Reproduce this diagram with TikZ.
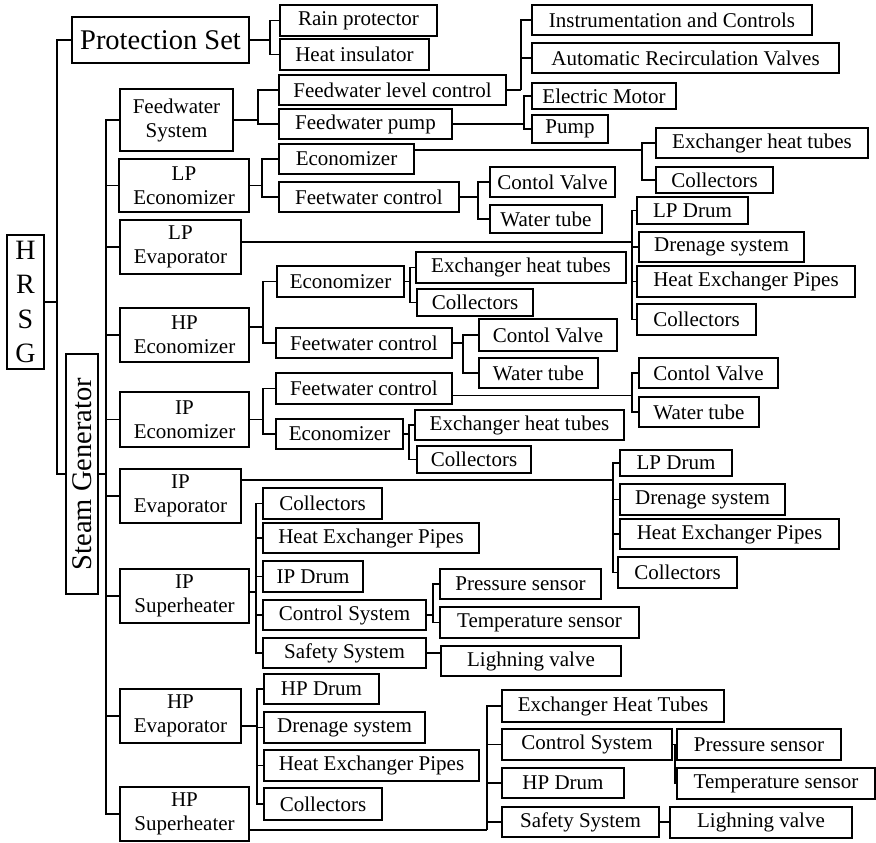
\documentclass[tikz,border=0pt]{standalone}
\usepackage{fontspec}
\usepackage{graphicx}
\setmainfont{Liberation Serif}
\usetikzlibrary{calc}
\tikzset{
  bx/.style={draw, line width=1.3pt, inner sep=0pt, align=center,
    font=\fontsize{21}{24}\selectfont},
  link/.style={line width=1.3pt}
}
\newcommand\bxn[6]{\node[bx, minimum width={(#4)-(#2)}, minimum height={(#5)-(#3)}] (#1) at ({((#2)+(#4))/2},{((#3)+(#5))/2}) {#6};}
\newcommand\myfan[3]{\coordinate (fb) at (#2,0);
  \draw[link] (#1) -- (fb |- #1);
  \foreach \kid in {#3}{\draw[link] (fb |- #1) -- (fb |- \kid.west) -- (\kid.west);}}
\begin{document}
\begin{tikzpicture}[x=1pt,y=-1pt]
\useasboundingbox (0,0) rectangle (876,843);
% level 0
\node[bx, minimum width=37, minimum height=134, font=\fontsize{28}{34.5}\selectfont] (HRSG) at (25.5,302) {H\\R\\S\\G};
\node[bx, minimum width=177, minimum height=46, font=\fontsize{28.5}{30}\selectfont] (PS) at (160.5,40) {Protection Set};
\node[bx, minimum width=32, minimum height=240, font=\fontsize{28.5}{30}\selectfont] (SG) at (82,474) {\rotatebox{90}{Steam Generator}};
% level 1
\bxn{FWS}{120}{89}{233}{151}{Feedwater\\System}
\bxn{LPE}{119}{159}{249}{212}{LP\\Economizer}
\bxn{LPV}{120}{220}{241}{274}{LP\\Evaporator}
\bxn{HPE}{120}{308}{249}{362}{HP\\Economizer}
\bxn{IPE}{120}{392}{249}{447}{IP\\Economizer}
\bxn{IPV}{120}{469}{241}{523}{IP\\Evaporator}
\bxn{IPS}{120}{569}{249}{623}{IP\\Superheater}
\bxn{HPV}{120}{689}{241}{743}{HP\\Evaporator}
\bxn{HPS}{120}{787}{249}{841}{HP\\Superheater}
% level 2+
\bxn{RP}{280}{5}{437}{36}{Rain protector}
\bxn{HI}{280}{39}{429}{70}{Heat insulator}
\bxn{FLC}{279}{75}{506}{105}{Feedwater level control}
\bxn{FP}{279}{109}{452}{139}{Feedwater pump}
\bxn{IC}{532}{5}{812}{35}{Instrumentation and Controls}
\bxn{ARV}{532}{43}{839}{73}{Automatic Recirculation Valves}
\bxn{EM}{532}{83}{676}{109}{Electric Motor}
\bxn{PU}{532}{115}{608}{143}{Pump}
\bxn{LEco}{279}{144}{414}{174}{Economizer}
\bxn{LFC}{279}{182}{459}{212}{Feetwater control}
\bxn{LEHT}{656}{128}{868}{158}{Exchanger heat tubes}
\bxn{LCol}{656}{167}{773}{193}{Collectors}
\bxn{LCV}{490}{167}{615}{197}{Contol Valve}
\bxn{LWT}{490}{205}{602}{233}{Water tube}
\bxn{LDr}{637}{197}{748}{224}{LP Drum}
\bxn{LDs}{639}{232}{804}{262}{Drenage system}
\bxn{LHEP}{637}{266}{855}{297}{Heat Exchanger Pipes}
\bxn{LCo}{637}{304}{756}{335}{Collectors}
\bxn{HEco}{277}{266}{404}{297}{Economizer}
\bxn{HFC}{276}{328}{452}{358}{Feetwater control}
\bxn{HEHT}{416}{252}{626}{283}{Exchanger heat tubes}
\bxn{HCol}{417}{289}{533}{316}{Collectors}
\bxn{HCV}{479}{319}{617}{351}{Contol Valve}
\bxn{HWT}{479}{358}{598}{388}{Water tube}
\bxn{IFC}{276}{373}{452}{404}{Feetwater control}
\bxn{IEco}{276}{419}{403}{449}{Economizer}
\bxn{IEHT}{415}{410}{624}{440}{Exchanger heat tubes}
\bxn{ICol}{417}{446}{531}{473}{Collectors}
\bxn{ICV}{639}{358}{778}{388}{Contol Valve}
\bxn{IWT}{639}{397}{759}{427}{Water tube}
\bxn{VDr}{620}{450}{732}{476}{LP Drum}
\bxn{VDs}{620}{484}{785}{515}{Drenage system}
\bxn{VHEP}{620}{519}{839}{549}{Heat Exchanger Pipes}
\bxn{VCol}{618}{557}{737}{588}{Collectors}
\bxn{SCol}{263}{488}{382}{519}{Collectors}
\bxn{SHEP}{263}{523}{479}{553}{Heat Exchanger Pipes}
\bxn{SDr}{263}{561}{363}{592}{IP Drum}
\bxn{SCS}{263}{600}{426}{630}{Control System}
\bxn{SSS}{263}{638}{426}{668}{Safety System}
\bxn{SPS}{440}{569}{601}{599}{Pressure sensor}
\bxn{STS}{440}{607}{639}{638}{Temperature sensor}
\bxn{SLV}{441}{646}{621}{676}{Lighning valve}
\bxn{EDr}{264}{674}{379}{704}{HP Drum}
\bxn{EDs}{264}{712}{425}{743}{Drenage system}
\bxn{EHEP}{264}{750}{479}{781}{Heat Exchanger Pipes}
\bxn{ECol}{264}{788}{382}{820}{Collectors}
\bxn{UEHT}{502}{690}{724}{722}{Exchanger Heat Tubes}
\bxn{UCS}{502}{729}{672}{760}{Control System}
\bxn{UDr}{502}{768}{624}{798}{HP Drum}
\bxn{USS}{502}{807}{659}{837}{Safety System}
\bxn{UPS}{677}{729}{841}{760}{Pressure sensor}
\bxn{UTS}{677}{768}{875}{799}{Temperature sensor}
\bxn{ULV}{670}{807}{852}{838}{Lighning valve}
% connectors
\coordinate (hb) at (57,0);
\draw[link] (HRSG.east) -- (hb |- HRSG.east);
\draw[link] (hb |- HRSG.east) -- (hb |- PS.west) -- (PS.west);
\draw[link] (hb |- HRSG.east) -- (hb |- SG.west) -- (SG.west);
\myfan{SG.east}{106}{FWS,LPE,LPV,HPE,IPE,IPV,IPS,HPV,HPS}
\myfan{PS.east}{270}{RP,HI}
\myfan{FWS.east}{258}{FLC,FP}
\myfan{FLC.east}{521}{IC,ARV}
\myfan{FP.east}{524}{EM,PU}
\myfan{LPE.east}{262}{LEco,LFC}
\coordinate (pLEco) at ([yshift=9pt]LEco.east);
\myfan{pLEco}{642}{LEHT,LCol}
\myfan{LFC.east}{478}{LCV,LWT}
\coordinate (pLPV) at ([yshift=5pt]LPV.east);
\myfan{pLPV}{632}{LDr,LDs,LHEP,LCo}
\coordinate (pHPE) at ([yshift=8pt]HPE.east);
\myfan{pHPE}{263}{HEco,HFC}
\myfan{HEco.east}{410}{HEHT,HCol}
\myfan{HFC.east}{463}{HCV,HWT}
\myfan{IPE.east}{263}{IFC,IEco}
\coordinate (pIFC) at ([yshift=-7pt]IFC.east);
\myfan{pIFC}{632}{ICV,IWT}
\myfan{IEco.east}{409}{IEHT,ICol}
\coordinate (pIPV) at ([yshift=16pt]IPV.east);
\myfan{pIPV}{613}{VDr,VDs,VHEP,VCol}
\coordinate (pIPS) at ([yshift=4pt]IPS.east);
\myfan{pIPS}{256}{SCol,SHEP,SDr,SCS,SSS}
\myfan{SCS.east}{433}{SPS,STS}
\draw[link] (SSS.east) -- (SSS.east -| SLV.west);
\coordinate (pHPV) at ([yshift=-10pt]HPV.east);
\myfan{pHPV}{257}{EDr,EDs,EHEP,ECol}
\coordinate (pHPS) at ([yshift=-16pt]HPS.east);
\myfan{pHPS}{487}{UEHT,UCS,UDr,USS}
\myfan{UCS.east}{675}{UPS,UTS}
\draw[link] (USS.east) -- (USS.east -| ULV.west);
\end{tikzpicture}
\end{document}
